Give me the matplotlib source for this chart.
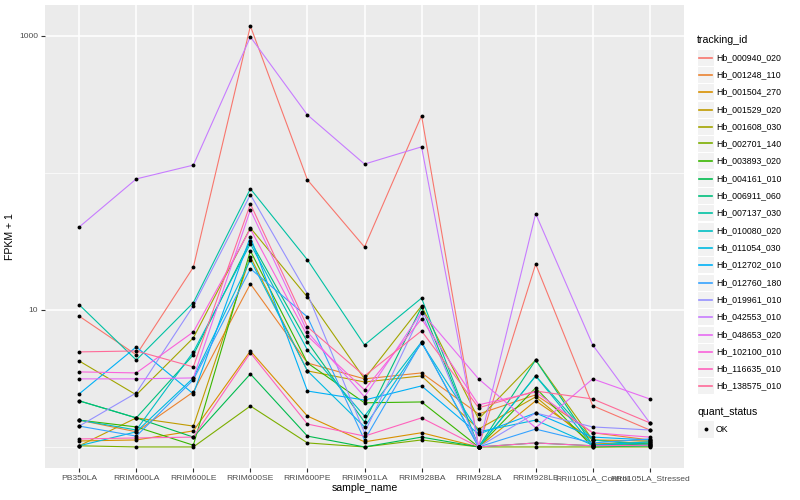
import numpy as np
import matplotlib.pyplot as plt
from matplotlib.patches import Rectangle
from matplotlib.lines import Line2D

plt.rcParams['font.family'] = ['Liberation Sans', 'DejaVu Sans']

samples = ["PB350LA", "RRIM600LA", "RRIM600LE", "RRIM600SE", "RRIM600PE", "RRIM901LA",
           "RRIM928BA", "RRIM928LA", "RRIM928LE", "RRII105LA_Control", "RRII105LA_Stressed"]

tracking_ids = ["Hb_000940_020", "Hb_001248_110", "Hb_001504_270", "Hb_001529_020",
                "Hb_001608_030", "Hb_002701_140", "Hb_003893_020", "Hb_004161_010",
                "Hb_006911_060", "Hb_007137_030", "Hb_010080_020", "Hb_011054_030",
                "Hb_012702_010", "Hb_012760_180", "Hb_019961_010", "Hb_042553_010",
                "Hb_048653_020", "Hb_102100_010", "Hb_116635_010", "Hb_138575_010"]

# FPKM + 1, one list per gene, in sample order
fpkm1 = {
    "Hb_000940_020": [9.0, 4.7, 20.5, 1180, 89, 28.8, 262, 1.0, 21.6, 2.0, 1.33],
    "Hb_001248_110": [1.57, 1.29, 2.52, 15.5, 4.1, 3.14, 3.47, 1.74, 2.4, 1.27, 1.125],
    "Hb_001504_270": [1.106, 1.125, 1.31, 5.02, 1.68, 1.09, 1.27, 1.0, 2.17, 1.125, 1.106],
    "Hb_001529_020": [1.02, 1.63, 1.42, 24.4, 3.59, 2.98, 3.3, 1.35, 2.32, 1.05, 1.09],
    "Hb_001608_030": [4.24, 2.4, 6.25, 39.7, 12.4, 3.14, 10.7, 1.6, 4.31, 1.125, 1.05],
    "Hb_002701_140": [1.02, 1.0, 1.0, 1.99, 1.07, 1.0, 1.125, 1.0, 1.0, 1.0, 1.0],
    "Hb_003893_020": [1.57, 1.4, 1.03, 27.0, 4.1, 2.1, 2.13, 1.0, 2.7, 1.0, 1.02],
    "Hb_004161_010": [2.17, 1.63, 1.18, 3.41, 1.2, 1.0, 1.18, 1.0, 1.07, 1.02, 1.05],
    "Hb_006911_060": [2.17, 1.63, 4.7, 31.9, 5.84, 1.52, 10.5, 1.0, 4.31, 1.03, 1.07],
    "Hb_007137_030": [10.9, 4.31, 11.3, 76.6, 23.2, 5.55, 12.2, 1.0, 3.3, 1.125, 1.03],
    "Hb_010080_020": [1.57, 1.33, 4.94, 30.4, 5.1, 1.68, 5.84, 1.0, 3.3, 1.02, 1.02],
    "Hb_011054_030": [1.02, 1.29, 3.19, 23.2, 3.59, 1.4, 5.74, 1.29, 1.57, 1.03, 1.09],
    "Hb_012702_010": [2.44, 5.37, 2.44, 34.1, 2.56, 2.2, 2.79, 1.24, 1.77, 1.18, 1.125],
    "Hb_012760_180": [1.42, 1.2, 3.09, 20.0, 8.89, 1.125, 5.84, 1.0, 1.35, 1.07, 1.144],
    "Hb_019961_010": [1.42, 2.48, 10.7, 69.4, 13.1, 1.27, 9.5, 1.0, 1.77, 1.4, 1.33],
    "Hb_042553_010": [40.3, 90.4, 114, 983, 265, 116, 155, 1.0, 50.4, 5.55, 1.5],
    "Hb_048653_020": [3.14, 3.14, 3.19, 53.7, 6.91, 2.32, 9.66, 3.14, 1.38, 3.14, 2.24],
    "Hb_102100_010": [3.53, 3.47, 6.91, 39.0, 6.46, 2.61, 8.6, 2.03, 2.52, 1.27, 1.18],
    "Hb_116635_010": [1.144, 1.163, 1.18, 4.86, 1.47, 1.2, 1.63, 1.0, 1.07, 1.02, 1.03],
    "Hb_138575_010": [4.94, 5.02, 3.84, 59.4, 7.52, 3.3, 7.03, 1.93, 2.56, 2.24, 1.5],
}


def hue_pal(n, l=65, c=100, h0=15):
    # ggplot2 default discrete palette (HCL -> sRGB)
    hues = (h0 + np.arange(n) * 360.0 / n) % 360
    Xn, Yn, Zn = 95.047, 100.0, 108.883
    un = 4 * Xn / (Xn + 15 * Yn + 3 * Zn)
    vn = 9 * Yn / (Xn + 15 * Yn + 3 * Zn)
    M = np.array([[3.2404542, -1.5371385, -0.4985314],
                  [-0.9692660, 1.8760108, 0.0415560],
                  [0.0556434, -0.2040259, 1.0572252]])
    out = []
    for h in hues:
        u = c * np.cos(np.radians(h))
        v = c * np.sin(np.radians(h))
        Y = Yn * ((l + 16) / 116.0) ** 3
        up = u / (13 * l) + un
        vp = v / (13 * l) + vn
        X = Y * 9 * up / (4 * vp)
        Z = Y * (12 - 3 * up - 20 * vp) / (4 * vp)
        rgb = M @ (np.array([X, Y, Z]) / 100.0)
        rgb = np.where(rgb <= 0.0031308, 12.92 * rgb, 1.055 * np.power(np.clip(rgb, 0, None), 1 / 2.4) - 0.055)
        out.append(tuple(np.clip(rgb, 0, 1)))
    return out


colors = hue_pal(len(tracking_ids))

fig = plt.figure(figsize=(8, 5), dpi=100)
ax = fig.add_axes([45 / 800, 32 / 500, 639 / 800, 463 / 500])
ax.set_facecolor('#EBEBEB')

x = np.arange(len(samples))
for tid, col in zip(tracking_ids, colors):
    ax.plot(x, fpkm1[tid], color=col, lw=0.8, zorder=3)
for tid in tracking_ids:
    ax.plot(x, fpkm1[tid], 'o', color='black', ms=2.8, mew=0, zorder=4)

ax.set_yscale('log')
allv = np.log10(np.concatenate([fpkm1[t] for t in tracking_ids]))
lo, hi = allv.min(), allv.max()
pad = 0.05 * (hi - lo)
ax.set_ylim(10 ** (lo - pad), 10 ** (hi + pad))
ax.set_xlim(-0.6, len(samples) - 0.4)

ax.set_yticks([10, 1000])
ax.set_yticklabels(["10", "1000"])
ax.set_yticks([1, 100], minor=True)
ax.yaxis.set_minor_formatter(plt.NullFormatter())
ax.set_xticks(x)
ax.set_xticklabels(samples)

ax.grid(True, which='major', color='white', lw=1.1, zorder=1)
ax.grid(True, which='minor', axis='y', color='white', lw=0.5, zorder=1)
ax.set_axisbelow(True)
for s in ax.spines.values():
    s.set_visible(False)
ax.tick_params(axis='both', which='major', length=3, width=0.8, color='#333333',
               labelsize=6.1, labelcolor='#4D4D4D', pad=2)
ax.tick_params(axis='y', which='minor', length=0)

ax.set_xlabel("sample_name", fontsize=7.6, labelpad=1)
ax.set_ylabel("FPKM + 1", fontsize=7.6, labelpad=3)

# legends, drawn by hand in figure pixels
def fy(py):
    return 1 - py / 500.0

fig.text(697 / 800, fy(40), "tracking_id", fontsize=7.6, va='center', ha='left')
for i, (tid, col) in enumerate(zip(tracking_ids, colors)):
    cy = round(56.7 + 17.3 * i) + 0.5
    fig.patches.append(Rectangle((697 / 800, fy(cy + 8.6)), 17 / 800, 17.2 / 500,
                                 transform=fig.transFigure, facecolor='#F2F2F2',
                                 edgecolor='white', lw=0.8, zorder=1))
    fig.lines.append(Line2D([699 / 800, 712 / 800], [fy(cy), fy(cy)], color=col, lw=1.2,
                            transform=fig.transFigure, zorder=3))
    fig.text(716 / 800, fy(cy), tid, fontsize=6.3, va='center', ha='left')

fig.text(697 / 800, fy(412), "quant_status", fontsize=7.6, va='center', ha='left')
fig.patches.append(Rectangle((697 / 800, fy(437.6)), 17 / 800, 17.2 / 500,
                             transform=fig.transFigure, facecolor='#F2F2F2',
                             edgecolor='white', lw=0.8, zorder=1))
fig.lines.append(Line2D([705.5 / 800], [fy(429)], marker='o', ms=2.8, mew=0, color='black',
                        transform=fig.transFigure, zorder=3))
fig.text(716 / 800, fy(429), "OK", fontsize=6.3, va='center', ha='left')

fig.savefig("out.png", dpi=100)
